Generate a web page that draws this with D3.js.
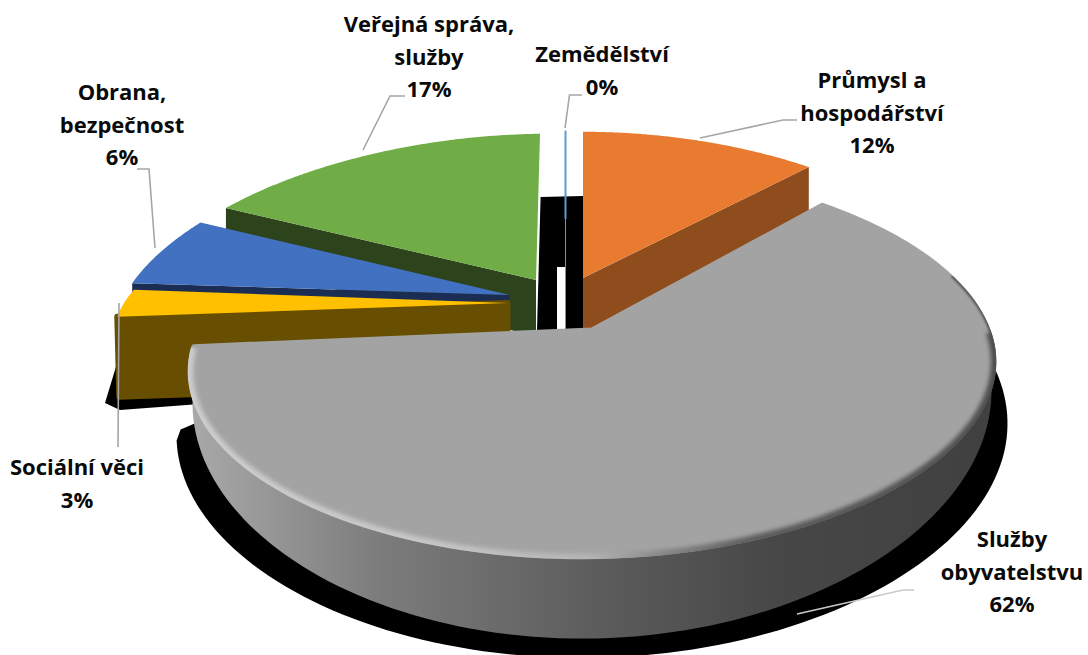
<!DOCTYPE html>
<html lang="cs"><head><meta charset="utf-8">
<script src="https://cdnjs.cloudflare.com/ajax/libs/d3/7.8.5/d3.min.js"></script>
<style>html,body{margin:0;padding:0;background:#fff}svg{display:block}
text{font-family:"Open Sans",Lato,sans-serif;font-weight:700;fill:#0a0a0a;text-anchor:middle}</style>
</head><body><svg id="c" width="1088" height="655"></svg>
<script>
// --- data ---
const categories = ["Zemědělství","Průmysl a hospodářství","Služby obyvatelstvu","Sociální věci","Obrana, bezpečnost","Veřejná správa, služby"];
const shares = [0,12,62,3,6,17];
const labelLines = [["Zemědělství"],["Průmysl a","hospodářství"],["Služby","obyvatelstvu"],["Sociální věci"],["Obrana,","bezpečnost"],["Veřejná správa,","služby"]];
const topColors = ["#5b9bd5","#e97b30","#a3a3a3","#ffc000","#4371c2","#70ad47"];
const wallColors = ["#5b9bd5","#8f4c1d","#707070","#674e00","#1b2d53","#2c431c"];

// --- layout: exploded-slice placement and label anchors ---
const sliceLayout = [
  {x:565.5,y:219,kx:1,ky:.55,sh:0,tx:0,depth:110},
  {x:583,y:278,kx:.98,ky:.91,sh:0,tx:0,depth:60},
  {x:592,y:330,kx:1,ky:1,sh:.012,tx:0,depth:62},
  {x:507.5,y:303,kx:.98,ky:.77,sh:.012,tx:0,depth:80},
  {x:509.5,y:295,kx:.99,ky:.97,sh:.028,tx:0,depth:50},
  {x:536,y:280,kx:1,ky:.91,sh:.0135,tx:4,depth:56}
];
const labelPos = [{x:602,y:62},{x:872,y:88},{x:1012,y:547},{x:77,y:475},{x:122,y:100},{x:429,y:32}];
const leaders = [
  [[565,128],[569.5,95],[582,95]],
  [[700,138],[783,120],[797,120]],
  [[797,614],[903,590],[914,590]],
  [[119,303],[118,447]],
  [[155,248],[149,169],[137,169]],
  [[363,150],[390,96],[405,96]]
];
const R=394, H=188, P=.17, Q=.2, LINE=32.7;

const svg=d3.select("#c");
const defs=svg.append("defs");
const pie=d3.pie().sort(null).value(d=>d)(shares);

function proj(a,L){
  const u=Math.sin(a),v=Math.cos(a);
  const dx=L.kx*R*u*(1-Q*v);
  return [L.x+dx+L.tx*v, L.y-(L.ky*H*v/(1+P*v)+L.sh*dx)];
}
const line=d3.line();
const arcPts=(a0,a1,L,f=p=>p)=>d3.range(0,121).map(i=>f(proj(a0+(a1-a0)*i/120,L),a0+(a1-a0)*i/120));
const facePts=(d,L)=>[[L.x,L.y],...arcPts(d.startAngle,d.endAngle,L)];

// gradients
const wallGrad=defs.append("linearGradient").attr("id","wallG").attr("gradientUnits","userSpaceOnUse")
  .attr("x1",190).attr("x2",995).attr("y1",0).attr("y2",0);
[[0,"#a9a9a9"],[.137,"#8f8f8f"],[.236,"#7c7c7c"],[.51,"#5c5c5c"],[.73,"#474747"],[1,"#404040"]].forEach(s=>wallGrad.append("stop").attr("offset",s[0]).attr("stop-color",s[1]));
const rimGrad=defs.append("linearGradient").attr("id","rimG").attr("gradientUnits","userSpaceOnUse")
  .attr("x1",190).attr("x2",995).attr("y1",0).attr("y2",0);
[[0,"#cdcdcd"],[.3,"#c6c6c6"],[.5,"#b4b4b4"],[.58,"#8a8a8a"],[.7,"#5c5c5c"],[1,"#505050"]].forEach(s=>rimGrad.append("stop").attr("offset",s[0]).attr("stop-color",s[1]));
const blur=(id,dev)=>defs.append("filter").attr("id",id).attr("x","-10%").attr("y","-10%").attr("width","120%").attr("height","120%")
  .append("feGaussianBlur").attr("stdDeviation",dev);
blur("soft",2.2); blur("softer",1.2);

const gL=sliceLayout[2];
const rad=d=>d*Math.PI/180;
// lower rim of the large slice: a wider, lower ellipse than the top rim
const wallBottom=p=>[gL.x+(p[0]-gL.x)*.995, 408+(p[1]-375)*1.27];

// black shadows behind the slices
const g=svg.append("g");
g.append("path").attr("fill","#000").attr("d",line([[540.6,197],[583,196],[583,330],[565,330],[565,267],[557,267],[557,330],[537,330]])+"Z");
g.append("path").attr("fill","#000").attr("d",line([[118,360],[105,403],[120,410],[200,404],[200,380]])+"Z");
const shadow=arcPts(rad(72),rad(258),gL,p=>{const b=wallBottom(p);return [gL.x+(b[0]-gL.x)*1.04,440+(b[1]-408)*.945];});
const shEnd=shadow[shadow.length-1];
shadow.push([shEnd[0]+4,shEnd[1]-11],[shEnd[0]+18,shEnd[1]-17]);
g.append("path").attr("fill","#000").attr("d",line(shadow)+"Z");

// back to front drawing order
[5,1,0,4,3,2].forEach(i=>{
  const d=pie[i],L=sliceLayout[i],s=g.append("g").attr("class","slice");
  if(i===2){
    const top=arcPts(rad(80),d.endAngle,L);
    const bot=top.map(wallBottom);
    s.append("path").attr("fill","url(#wallG)").attr("d",line([...top,...bot.reverse()])+"Z");
    const faceD=line(facePts(d,L))+"Z";
    s.append("path").attr("fill",topColors[i]).attr("stroke",topColors[i]).attr("stroke-width",5).attr("stroke-linejoin","round").attr("d",faceD);
    const big={...L,kx:L.kx*1.007,ky:L.ky*1.012};
    defs.append("clipPath").attr("id","faceClip").append("path").attr("d",line(facePts(d,big))+"Z");
    const rim=s.append("g").attr("clip-path","url(#faceClip)");
    rim.append("path").attr("fill","none").attr("stroke","#555").attr("stroke-width",4).attr("filter","url(#softer)")
      .attr("d",line(arcPts(rad(74),rad(110),big)));
    rim.append("path").attr("fill","none").attr("stroke","url(#rimG)").attr("stroke-width",11).attr("filter","url(#soft)")
      .attr("d",line(arcPts(rad(92),d.endAngle,big)));
    return;
  }
  if(i===0){
    const p=proj(d.startAngle,L);
    s.append("line").attr("x1",L.x).attr("x2",L.x).attr("y1",L.y).attr("y2",L.y+L.depth).attr("stroke",wallColors[i]).attr("stroke-width",1);
    s.append("path").attr("stroke",topColors[i]).attr("stroke-width",2).attr("fill","none").attr("d",line([[L.x,L.y],p]));
    return;
  }
  // radial wall facing the viewer
  const wa = i===1 ? d.endAngle : d.startAngle;
  const c=proj(wa,L);
  const wallPts=[[L.x,L.y],c,[c[0]+(i===3?2:0),c[1]+L.depth],[L.x,L.y+L.depth]];
  const w=s.append("path").attr("fill",wallColors[i]).attr("d",line(wallPts)+"Z");
  if(i===3) w.attr("stroke",wallColors[i]).attr("stroke-width",6).attr("stroke-linejoin","round");
  s.append("path").attr("fill",topColors[i]).attr("d",line(facePts(d,L))+"Z");
});

// leader lines
svg.append("g").selectAll("path").data(leaders).join("path")
  .attr("fill","none").attr("stroke",(d,i)=>i===2?"#c9c9c9":"#a6a6a6").attr("stroke-width",1.6).attr("d",d=>line(d));

// labels
const lab=svg.append("g").selectAll("text").data(categories).join("text")
  .attr("font-size",22).attr("x",(d,i)=>labelPos[i].x).attr("y",(d,i)=>labelPos[i].y);
lab.each(function(d,i){
  const t=d3.select(this);
  [...labelLines[i],d3.format(".0f")(shares[i])+"%"].forEach((s,k)=>{
    t.append("tspan").attr("x",labelPos[i].x).attr("y",labelPos[i].y+k*LINE).text(s);
  });
});
</script></body></html>
